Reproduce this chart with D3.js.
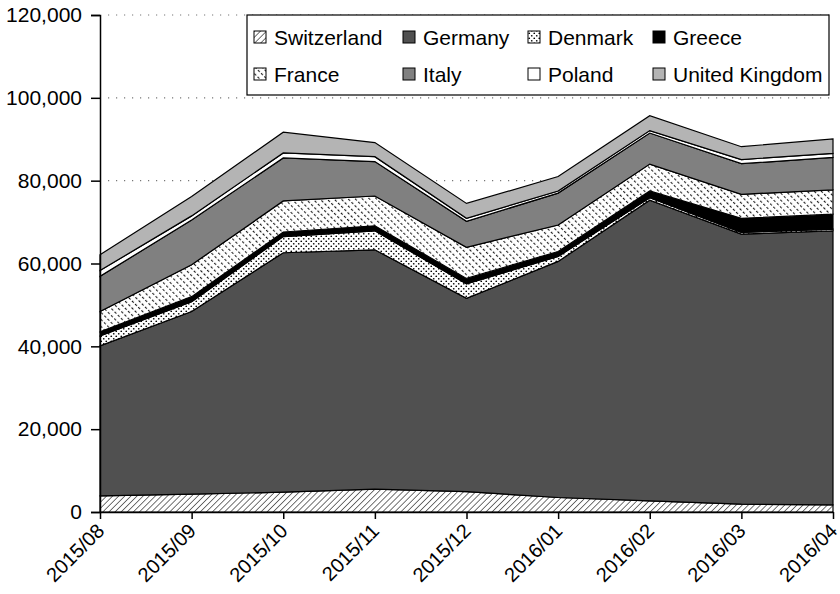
<!DOCTYPE html>
<html>
<head>
<meta charset="utf-8">
<script src="https://cdnjs.cloudflare.com/ajax/libs/d3/7.8.5/d3.min.js"></script>
<style>
body { margin: 0; background: #fff; }
text { font-family: "Liberation Sans", Arial, Helvetica, sans-serif; fill: #000; }
</style>
</head>
<body>
<div id="chart"></div>
<script>
var months = ['2015/08', '2015/09', '2015/10', '2015/11', '2015/12', '2016/01', '2016/02', '2016/03', '2016/04'];
var countries = ['Switzerland', 'Germany', 'Denmark', 'Greece', 'France', 'Italy', 'Poland', 'United Kingdom'];

// monthly values per country, bottom of the stack first
var switzerland = [3900, 4300, 4800, 5500, 4900, 3500, 2700, 1900, 1700];
var germany     = [36200, 44100, 57800, 57800, 46700, 57000, 72600, 65200, 66200];
var denmark     = [2400, 2400, 3900, 4600, 3500, 1200, 600, 400, 400];
var greece      = [1000, 1200, 1100, 1200, 1300, 1200, 1600, 3400, 3600];
var france      = [4900, 7700, 7500, 7200, 7500, 6400, 6500, 5800, 5900];
var italy       = [8500, 10800, 10400, 8300, 6300, 7700, 7500, 7400, 7800];
var poland      = [1400, 1000, 1200, 1200, 700, 500, 600, 1000, 1000];
var uk          = [3800, 4700, 5000, 3400, 3600, 3500, 3600, 3100, 3500];

var yTicks = [0, 20000, 40000, 60000, 80000, 100000, 120000];

var series = {
	'Switzerland': switzerland, 'Germany': germany, 'Denmark': denmark, 'Greece': greece,
	'France': france, 'Italy': italy, 'Poland': poland, 'United Kingdom': uk
};

var fills = {
	'Switzerland': 'url(#hatch)', 'Germany': '#505050', 'Denmark': 'url(#dots)', 'Greece': '#000',
	'France': 'url(#dashes)', 'Italy': '#808080', 'Poland': '#fff', 'United Kingdom': '#b4b4b4'
};

var rows = months.map(function(m, i) {
	var row = { month: m };
	countries.forEach(function(c) { row[c] = series[c][i]; });
	return row;
});

var w = 840, h = 594;
var plotLeft = 100, plotRight = 833, plotTop = 15, plotBottom = 512;

var svg = d3.select('#chart').append('svg')
	.attr('width', w)
	.attr('height', h);

// patterns
var defs = svg.append('defs');

var hatch = defs.append('pattern')
	.attr('id', 'hatch')
	.attr('patternUnits', 'userSpaceOnUse')
	.attr('width', 4.3).attr('height', 4.3)
	.attr('patternTransform', 'rotate(45)');
hatch.append('rect').attr('width', 4.3).attr('height', 4.3).attr('fill', '#fff');
hatch.append('line').attr('x1', 0).attr('y1', 0).attr('x2', 0).attr('y2', 4.3)
	.attr('stroke', '#000').attr('stroke-width', 1.1);

var dashes = defs.append('pattern')
	.attr('id', 'dashes')
	.attr('patternUnits', 'userSpaceOnUse')
	.attr('width', 5).attr('height', 4.5)
	.attr('patternTransform', 'rotate(-45)');
dashes.append('rect').attr('width', 5).attr('height', 4.5).attr('fill', '#fff');
dashes.append('line').attr('x1', 0.6).attr('y1', 0).attr('x2', 0.6).attr('y2', 2.4)
	.attr('stroke', '#000').attr('stroke-width', 1);

var dots = defs.append('pattern')
	.attr('id', 'dots')
	.attr('patternUnits', 'userSpaceOnUse')
	.attr('width', 5).attr('height', 5);
dots.append('rect').attr('width', 5).attr('height', 5).attr('fill', '#fff');
dots.append('circle').attr('cx', 1.25).attr('cy', 1.25).attr('r', 0.85).attr('fill', '#000');
dots.append('circle').attr('cx', 3.75).attr('cy', 3.75).attr('r', 0.85).attr('fill', '#000');

var x = d3.scalePoint().domain(months).range([plotLeft, plotRight]);
var y = d3.scaleLinear().domain([0, 120000]).range([plotBottom, plotTop]);

// dotted gridlines
svg.append('g').selectAll('line')
	.data(yTicks.slice(1))
	.enter().append('line')
	.attr('x1', plotLeft + 8).attr('x2', plotRight)
	.attr('y1', function(d) { return y(d); })
	.attr('y2', function(d) { return y(d); })
	.attr('stroke', '#777')
	.attr('stroke-width', 1.2)
	.attr('stroke-dasharray', '1.2,6.8');

var stack = d3.stack().keys(countries);
var layers = stack(rows);

var area = d3.area()
	.x(function(d) { return x(d.data.month); })
	.y0(function(d) { return y(d[0]); })
	.y1(function(d) { return y(d[1]); });

svg.append('g').selectAll('path')
	.data(layers)
	.enter().append('path')
	.attr('d', area)
	.attr('fill', function(d) { return fills[d.key]; })
	.attr('stroke', '#000')
	.attr('stroke-width', 1.2)
	.attr('stroke-linejoin', 'miter');

// axes
var yAxis = svg.append('g')
	.attr('transform', 'translate(' + plotLeft + ',0)')
	.call(d3.axisLeft(y).tickValues(yTicks).tickFormat(d3.format(',')).tickSize(9).tickPadding(9));
yAxis.selectAll('text').style('font-size', '21px');

var xAxis = svg.append('g')
	.attr('transform', 'translate(0,' + plotBottom + ')')
	.call(d3.axisBottom(x).tickSize(7).tickSizeOuter(0));
xAxis.selectAll('text')
	.style('font-size', '20px')
	.attr('text-anchor', 'end')
	.attr('dy', 0)
	.attr('transform', 'translate(-2,13) rotate(-45)');

svg.selectAll('.domain, .tick line').attr('stroke', '#000').attr('stroke-width', 1.5);

// legend
var legend = svg.append('g');
legend.append('rect')
	.attr('x', 247).attr('y', 15)
	.attr('width', 582).attr('height', 80)
	.attr('fill', '#fff').attr('stroke', '#000').attr('stroke-width', 1.2);

var colX = [254, 403, 528, 653];
var rowY = [37, 74];

var items = legend.selectAll('g.item')
	.data(countries)
	.enter().append('g')
	.attr('class', 'item')
	.attr('transform', function(d, i) {
		return 'translate(' + colX[i % 4] + ',' + rowY[Math.floor(i / 4)] + ')';
	});

items.append('rect')
	.attr('x', 0).attr('y', -6)
	.attr('width', 12).attr('height', 12)
	.attr('fill', function(d) { return fills[d]; })
	.attr('stroke', '#000').attr('stroke-width', 1);

items.append('text')
	.attr('x', 20)
	.attr('dy', '0.36em')
	.style('font-size', '21px')
	.text(function(d) { return d; });
</script>
</body>
</html>
